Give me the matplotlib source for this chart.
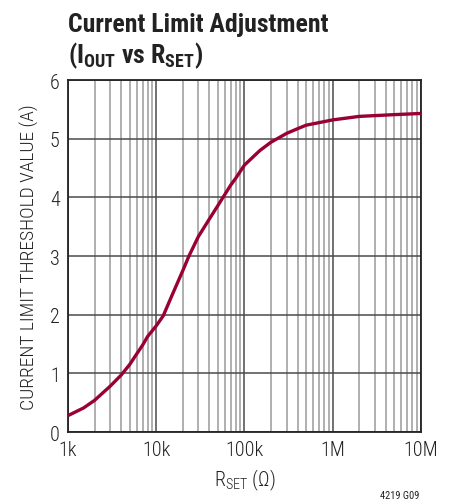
import matplotlib.pyplot as plt
import numpy as np
from matplotlib.ticker import FixedLocator, LogLocator, NullFormatter

plt.rcParams['font.family'] = ['Roboto Condensed', 'DejaVu Sans']
plt.rcParams['mathtext.fontset'] = 'custom'
plt.rcParams['mathtext.rm'] = 'Roboto Condensed:light'
plt.rcParams['mathtext.bf'] = 'Roboto Condensed:bold'

# curve
rset = [1e3, 1.5e3, 2e3, 3e3, 4e3, 5e3, 6e3, 7e3, 8e3, 1e4, 1.2e4, 1.5e4,
        2e4, 2.35e4, 3e4, 4e4, 5e4, 6e4, 7e4, 8e4, 1e5, 1.5e5, 2e5, 3e5,
        4e5, 5e5, 1e6, 2e6, 5e6, 1e7]
iout = [0.28, 0.41, 0.54, 0.78, 0.97, 1.15, 1.33, 1.48, 1.63, 1.81, 1.98,
        2.32, 2.75, 3.00, 3.33, 3.63, 3.86, 4.05, 4.21, 4.33, 4.55, 4.80,
        4.94, 5.09, 5.17, 5.23, 5.32, 5.38, 5.41, 5.43]

xticks = [1e3, 1e4, 1e5, 1e6, 1e7]
xtick_labels = ["1k", "10k", "100k", "1M", "10M"]
yticks = [0, 1, 2, 3, 4, 5, 6]

fig = plt.figure(figsize=(4.54, 5.02), dpi=100)
ax = fig.add_axes([0.1498, 0.1374, 0.7772, 0.7012])

ax.plot(rset, iout, color="#990033", lw=2.4, solid_capstyle="butt",
        solid_joinstyle="round", zorder=3)

ax.set_xscale("log")
ax.set_xlim(1e3, 1e7)
ax.set_ylim(0, 6)
ax.xaxis.set_major_locator(FixedLocator(xticks))
ax.set_xticklabels(xtick_labels)
ax.xaxis.set_minor_locator(LogLocator(base=10, subs=np.arange(2, 10)))
ax.xaxis.set_minor_formatter(NullFormatter())
ax.set_yticks(yticks)
for lbl in ax.get_xticklabels() + ax.get_yticklabels():
    lbl.set_fontweight("light")

ax.grid(which="major", color="#4a4a4a", lw=1.1)
ax.grid(which="minor", axis="x", color="#9a9a9a", lw=1.1)
ax.tick_params(which="both", length=0, labelsize=14.5, pad=6, colors="#222222")
for s in ax.spines.values():
    s.set_color("#222222")
    s.set_linewidth(1.3)

ax.set_ylabel("CURRENT LIMIT THRESHOLD VALUE (A)", fontsize=14, fontweight="light",
              color="#222222", labelpad=8)
ax.set_xlabel(r"R$_{\mathregular{SET}}$ (Ω)", fontsize=14.5, fontweight="light",
              color="#222222", labelpad=5)

fig.text(0.150, 0.937, "Current Limit Adjustment", fontsize=18.5, fontweight="bold",
         color="#222222", ha="left", va="baseline")
fig.text(0.150, 0.874, r"(I$_{\mathbf{OUT}}$ vs R$_{\mathbf{SET}}$)", fontsize=18.5,
         fontweight="bold", color="#222222", ha="left", va="baseline")
fig.text(0.923, 0.006, "4219 G09", fontsize=7.5, color="#222222", ha="right", va="baseline")

fig.savefig("out.png", dpi=100)
